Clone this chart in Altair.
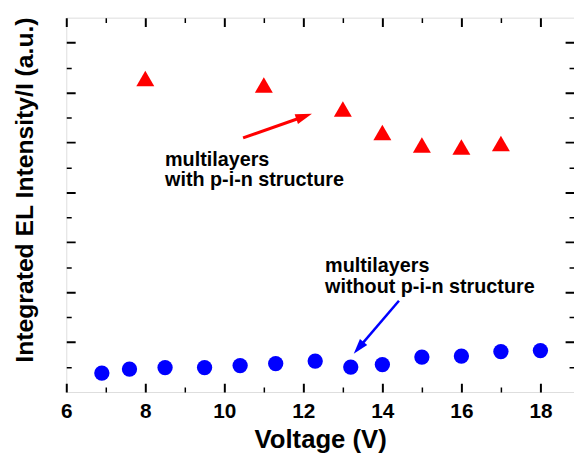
import altair as alt
import pandas as pd

FONT = "Liberation Sans"

# ---- data ----
pin_voltage = [8, 11, 13, 14, 15, 16, 17]
pin_intensity = [6.28, 6.15, 5.67, 5.20, 4.95, 4.91, 4.98]

ref_voltage = [6.9, 7.6, 8.5, 9.5, 10.4, 11.3, 12.3, 13.2, 14.0, 15.0, 16.0, 17.0, 18.0]
ref_intensity = [0.38, 0.46, 0.49, 0.49, 0.53, 0.57, 0.62, 0.50, 0.55, 0.70, 0.72, 0.81, 0.83]

x_major = [6, 8, 10, 12, 14, 16, 18]
x_minor = [7, 9, 11, 13, 15, 17]
y_major = [1, 2, 3, 4, 5, 6, 7]
y_minor = [0.5, 1.5, 2.5, 3.5, 4.5, 5.5, 6.5]

note_text = ["multilayers", "with p-i-n structure", "multilayers", "without p-i-n structure"]
note_x = [8.5, 8.5, 12.55, 12.55]
note_y = [4.53, 4.13, 2.40, 1.99]

red_arrow_x = [10.475, 12.02]
red_arrow_y = [5.09, 5.52]
red_head_angle = 71

blue_arrow_x = [14.42, 13.40]
blue_arrow_y = [1.83, 0.885]
blue_head_angle = 220

W, H = 514, 379
X_DOMAIN = [6, 18.85]
Y_DOMAIN = [0, 7.5]

xs = alt.Scale(domain=X_DOMAIN, nice=False, zero=False)
ys = alt.Scale(domain=Y_DOMAIN, nice=False, zero=False)

pin_df = pd.DataFrame({"v": pin_voltage, "i": pin_intensity})
ref_df = pd.DataFrame({"v": ref_voltage, "i": ref_intensity})
note_df = pd.DataFrame({"v": note_x, "i": note_y, "t": note_text})
red_line_df = pd.DataFrame({"v": red_arrow_x, "i": red_arrow_y})
blue_line_df = pd.DataFrame({"v": blue_arrow_x, "i": blue_arrow_y})
red_head_df = pd.DataFrame({"v": [red_arrow_x[1]], "i": [red_arrow_y[1]], "a": [red_head_angle]})
blue_head_df = pd.DataFrame({"v": [blue_arrow_x[1]], "i": [blue_arrow_y[1]], "a": [blue_head_angle]})

x_axis_main = alt.Axis(
    orient="bottom", values=x_major, title="Voltage (V)",
    labelFont=FONT, labelFontSize=21, labelFontWeight="bold", labelColor="black",
    labelPadding=9, labelOverlap=False, labelFlush=False,
    titleFont=FONT, titleFontSize=26, titleFontWeight="bold", titleColor="black",
    titlePadding=5,
    ticks=False, domain=False,
    grid=True, gridColor="black", gridOpacity=1, gridWidth=2,
    gridDash=[9, H - 18, 9, H],
)
x_axis_minor = alt.Axis(
    orient="top", values=x_minor, title=None, labels=False, ticks=False, domain=False,
    grid=True, gridColor="black", gridOpacity=1, gridWidth=1.5,
    gridDash=[5, H - 10, 5, H],
)
y_axis_main = alt.Axis(
    orient="left", values=y_major, title="Integrated EL Intensity/I (a.u.)",
    labels=False, ticks=False, domain=False,
    titleFont=FONT, titleFontSize=25, titleFontWeight="bold", titleColor="black",
    titlePadding=29, titleY=174,
    grid=True, gridColor="black", gridOpacity=1, gridWidth=2,
    gridDash=[9, W - 18, 9, W],
)
y_axis_minor = alt.Axis(
    orient="right", values=y_minor, title=None, labels=False, ticks=False, domain=False,
    grid=True, gridColor="black", gridOpacity=1, gridWidth=1.5,
    gridDash=[5, W - 10, 5, W],
)

tri = alt.Chart(pin_df).mark_point(
    shape="triangle-up", filled=True, color="#ff0000", opacity=1, size=330, strokeWidth=0
).encode(
    x=alt.X("v:Q", scale=xs, axis=x_axis_main),
    y=alt.Y("i:Q", scale=ys, axis=y_axis_main),
)

dots = alt.Chart(ref_df).mark_point(
    shape="circle", filled=True, color="#0000ff", opacity=1, size=240, strokeWidth=0
).encode(
    x=alt.X("v:Q", scale=xs, axis=x_axis_minor),
    y=alt.Y("i:Q", scale=ys, axis=y_axis_minor),
)

HEAD = "M0,-1L-0.62,1L0.62,1Z"

red_line = alt.Chart(red_line_df).mark_line(color="#ff0000", strokeWidth=3).encode(
    x=alt.X("v:Q", scale=xs, axis=None), y=alt.Y("i:Q", scale=ys, axis=None))
red_head = alt.Chart(red_head_df).mark_point(
    shape=HEAD, filled=True, color="#ff0000", opacity=1, size=280, strokeWidth=0
).encode(
    x=alt.X("v:Q", scale=xs, axis=None), y=alt.Y("i:Q", scale=ys, axis=None),
    angle=alt.Angle("a:Q", scale=None))

blue_line = alt.Chart(blue_line_df).mark_line(color="#0000ff", strokeWidth=2.5).encode(
    x=alt.X("v:Q", scale=xs, axis=None), y=alt.Y("i:Q", scale=ys, axis=None))
blue_head = alt.Chart(blue_head_df).mark_point(
    shape=HEAD, filled=True, color="#0000ff", opacity=1, size=240, strokeWidth=0
).encode(
    x=alt.X("v:Q", scale=xs, axis=None), y=alt.Y("i:Q", scale=ys, axis=None),
    angle=alt.Angle("a:Q", scale=None))

notes = alt.Chart(note_df).mark_text(
    align="left", baseline="alphabetic", font=FONT, fontSize=20, fontWeight="bold", color="black"
).encode(
    x=alt.X("v:Q", scale=xs, axis=None), y=alt.Y("i:Q", scale=ys, axis=None), text="t:N")

chart = alt.layer(tri, dots, red_line, red_head, blue_line, blue_head, notes).resolve_axis(
    x="independent", y="independent"
).properties(
    width=W, height=H, padding={"left": 5, "top": 5, "right": 0, "bottom": 3}
).configure_view(
    stroke="black", strokeWidth=2
).configure(
    background="white"
)

chart.save("out.html", embed_options={"renderer": "svg", "actions": False})
